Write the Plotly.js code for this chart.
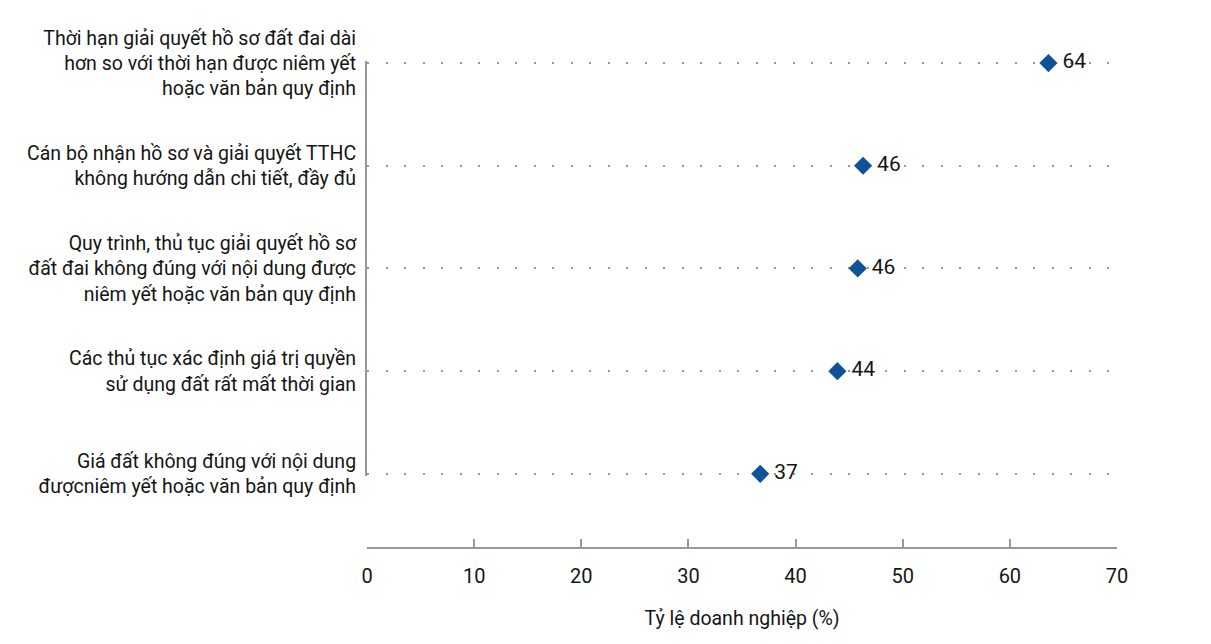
<!DOCTYPE html>
<html>
<head>
<meta charset="utf-8">
<script src="https://cdn.plot.ly/plotly-3.0.1.min.js"></script>
<style>html,body{margin:0;padding:0;background:#fff;}#chart{width:1211px;height:644px;}</style>
</head>
<body>
<div id="chart"></div>
<script>
const categories = [
  "Thời hạn giải quyết hồ sơ đất đai dài<br>hơn so với thời hạn được niêm yết<br>hoặc văn bản quy định",
  "Cán bộ nhận hồ sơ và giải quyết TTHC<br>không hướng dẫn chi tiết, đầy đủ",
  "Quy trình, thủ tục giải quyết hồ sơ<br>đất đai không đúng với nội dung được<br>niêm yết hoặc văn bản quy định",
  "Các thủ tục xác định giá trị quyền<br>sử dụng đất rất mất thời gian",
  "Giá đất không đúng với nội dung<br>đượcniêm yết hoặc văn bản quy định"
];
const values = [63.6, 46.3, 45.8, 43.9, 36.7];
const valueLabels = ["64", "46", "46", "44", "37"];
const xTicks = [0, 10, 20, 30, 40, 50, 60, 70];
const xTitle = "Tỷ lệ doanh nghiệp (%)";

const FONT = "'Roboto', sans-serif";
const FS = 19.5;

const trace = {
  type: 'scatter',
  mode: 'markers+text',
  x: values,
  y: categories,
  text: valueLabels,
  texttemplate: '\u2009%{text}',
  textposition: 'middle right',
  textfont: {family: FONT, size: 21, color: '#151515'},
  marker: {symbol: 'diamond', size: 14, color: '#0f5298'},
  cliponaxis: false,
  hoverinfo: 'x+y'
};

const layout = {
  width: 1211, height: 644,
  margin: {l: 367, r: 94, t: 61, b: 96},
  paper_bgcolor: '#fff', plot_bgcolor: '#fff',
  showlegend: false,
  font: {family: FONT, size: FS, color: '#151515'},
  xaxis: {
    range: [0, 70],
    tickvals: xTicks,
    ticks: 'inside', ticklen: 8, tickcolor: '#999', tickwidth: 2,
    showline: true, linecolor: '#999', linewidth: 2,
    showgrid: false, zeroline: false,
    anchor: 'free', position: 0,
    ticklabelstandoff: 10,
    tickfont: {family: FONT, size: 20, color: '#151515'},
    title: {text: xTitle, font: {family: FONT, size: FS, color: '#151515'}, standoff: 23}
  },
  yaxis: {
    type: 'category',
    categoryorder: 'array', categoryarray: categories,
    range: [4.02, -0.02],
    domain: [0.148, 1],
    showline: true, linecolor: '#999', linewidth: 2,
    ticks: '', ticklabelstandoff: 5,
    showgrid: true, gridcolor: '#999', gridwidth: 2, griddash: '2px,16.5px',
    zeroline: false,
    tickfont: {family: FONT, size: FS, color: '#151515'}
  }
};

Plotly.newPlot('chart', [trace], layout, {displayModeBar: false, staticPlot: true});
</script>
</body>
</html>
